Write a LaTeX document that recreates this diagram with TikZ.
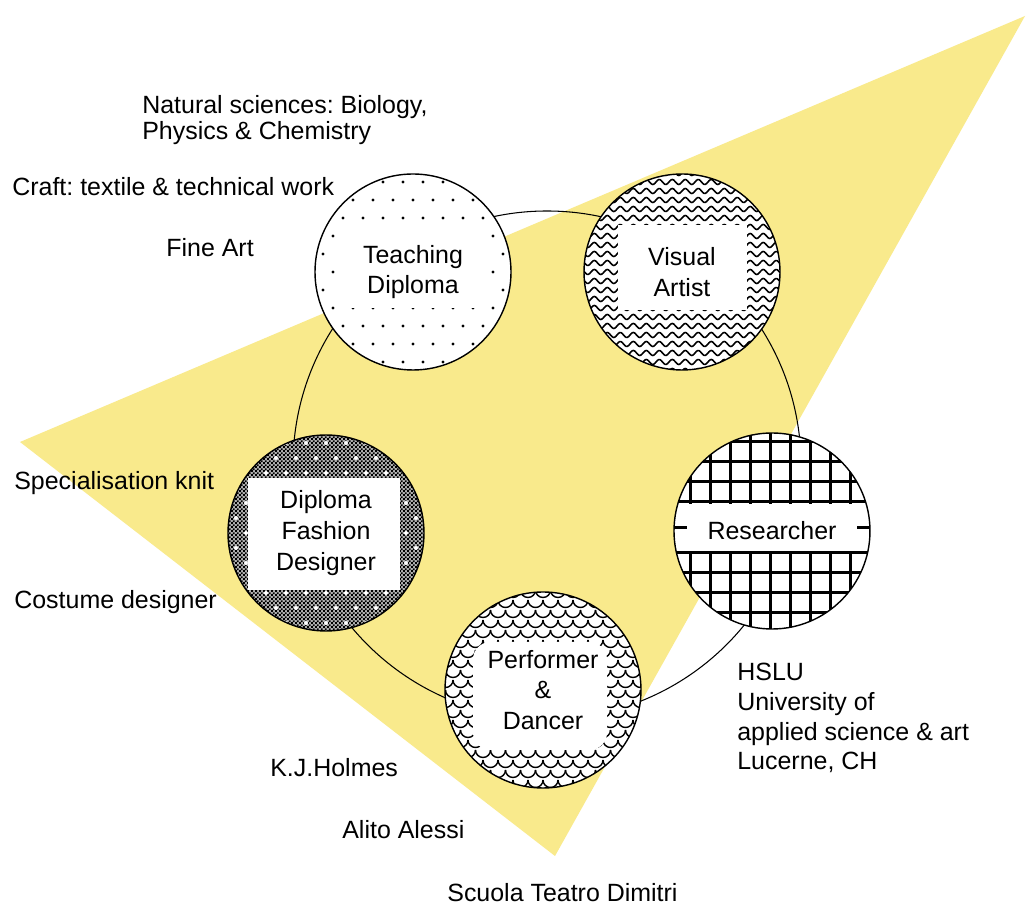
\documentclass[tikz,border=0pt]{standalone}
\usepackage{fontspec}
\setmainfont{Liberation Sans}
\frenchspacing
\usetikzlibrary{patterns}

\definecolor{triyellow}{RGB}{249,234,140}

\pgfdeclarepatternformonly{checker}{\pgfqpoint{0pt}{0pt}}{\pgfqpoint{2.4pt}{2.4pt}}{\pgfqpoint{2.4pt}{2.4pt}}{%
  \pgfpathrectangle{\pgfqpoint{0pt}{0pt}}{\pgfqpoint{1.2pt}{1.2pt}}%
  \pgfpathrectangle{\pgfqpoint{1.2pt}{1.2pt}}{\pgfqpoint{1.2pt}{1.2pt}}%
  \pgfusepath{fill}}

\tikzset{
  bubble/.style={circle, draw, line width=0.8pt, minimum size=3.92cm, align=center, font=\fontsize{14.2}{17.5}\selectfont},
  tag/.style={anchor=west, inner sep=0pt, align=left, font=\fontsize{14.2}{17}\selectfont},
}

\begin{document}
\begin{tikzpicture}
    \useasboundingbox (0, 0) rectangle (20.52, 18.36);
    \fill[white] (0, 0) rectangle (20.52, 18.36);
    \fill[triyellow] (20.5, 18.04) -- (0.4, 9.52) -- (11.1, 1.24) -- cycle;
    \draw[line width=0.6pt] (10.94, 9.06) circle (5.08);

    % teaching diploma: dots
    \begin{scope}[shift={(8.26, 12.92)}]
        \fill[white] (0, 0) circle (1.96);
        \clip (0, 0) circle (1.96);
        \foreach \j in {-6,...,6}
            \foreach \i in {-5,...,5}
                \fill ({\i*0.4 + 0.2*mod(\j+6,2)}, \j*0.36) circle (0.032);
        \fill[white] (-1.44, -0.72) rectangle (1.46, 0.88);
    \end{scope}

    % visual artist: waves
    \begin{scope}[shift={(13.64, 12.92)}]
        \fill[white] (0, 0) circle (1.96);
        \clip (0, 0) circle (1.96);
        \foreach \k in {-11,...,11}
            \draw[line width=0.9pt] plot[domain=-2:2, samples=160, smooth] (\x, {\k*0.18 + 0.05*sin(\x*1385)});
        \fill[white] (-1.28, -0.76) rectangle (1.3, 0.94);
    \end{scope}

    % researcher: grid
    \begin{scope}[shift={(15.44, 7.74)}]
        \fill[white] (0, 0) circle (1.96);
        \clip (0, 0) circle (1.96);
        \foreach \i in {-5,...,5}
            \draw[line width=1.7pt] (\i*0.4-0.04, -2) -- (\i*0.4-0.04, 2);
        \foreach \j in {-2.04,-1.64,-1.24,-0.84,-0.44,0.07,0.58,0.98,1.38,1.78}
            \draw[line width=1.7pt] (-2, \j) -- (2, \j);
        \fill[white] (-1.7, -0.40) rectangle (1.7, 0.54);
    \end{scope}

    % performer: scales
    \begin{scope}[shift={(10.86, 4.56)}]
        \fill[white] (0, 0) circle (1.96);
        \clip (0, 0) circle (1.96);
        \foreach \j in {-10,...,10}
            \foreach \i in {-7,...,7}
                \draw[line width=0.8pt] ({\i*0.3 + 0.15*mod(\j+10,2) - 0.15}, \j*0.2) arc[start angle=180, end angle=360, radius=0.15];
        \fill[white, rounded corners=0.35cm] (-1.4, -1.2) rectangle (1.28, 0.96);
    \end{scope}

    % fashion designer: checker
    \begin{scope}[shift={(6.52, 7.70)}]
        \fill[black!30] (0, 0) circle (1.96);
        \clip (0, 0) circle (1.96);
        \fill[pattern=checker] (-2, -2) rectangle (2, 2);
        \foreach \j in {-6,...,6}
            \foreach \i in {-5,...,5}
                \fill[white] ({\i*0.4 + 0.2*mod(\j+6,2)}, \j*0.3) circle (0.04);
        \fill[white] (-1.56, -1.14) rectangle (1.48, 1.1);
    \end{scope}

    \node[bubble] (teach) at (8.26, 12.92) {Teaching\\Diploma};
    \node[bubble] (visual) at (13.64, 12.92) {Visual\\Artist};
    \node[bubble] (research) at (15.44, 7.74) {Researcher};
    \node[bubble] (perform) at (10.86, 4.56) {Performer\\\&\\Dancer};
    \node[bubble] (fashion) at (6.52, 7.70) {Diploma\\Fashion\\Designer};

    \node[tag, font=\fontsize{14.2}{14.8}\selectfont] (natsci) at (2.84, 15.96) {Natural sciences: Biology,\\Physics \& Chemistry};
    \node[tag] (craft) at (0.24, 14.62) {Craft: textile \& technical work};
    \node[tag] (fineart) at (3.32, 13.40) {Fine Art};
    \node[tag] (knit) at (0.28, 8.70) {Specialisation knit};
    \node[tag] (costume) at (0.28, 6.32) {Costume designer};
    \node[tag] (holmes) at (5.40, 3.00) {K.J.Holmes};
    \node[tag] (alessi) at (6.84, 1.76) {Alito Alessi};
    \node[tag] (dimitri) at (8.94, 0.50) {Scuola Teatro Dimitri};
    \node[tag] (hslu) at (14.74, 4.00) {HSLU\\University of\\applied science \& art\\Lucerne, CH};
\end{tikzpicture}
\end{document}
